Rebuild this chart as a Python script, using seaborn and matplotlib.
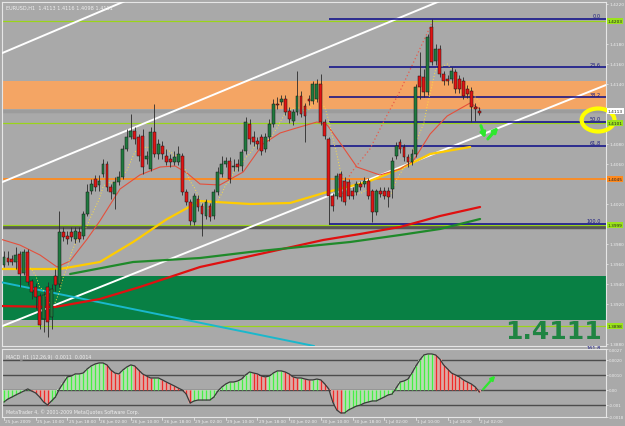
import numpy as np
import pandas as pd
import matplotlib
matplotlib.use("Agg")
import matplotlib.pyplot as plt
import matplotlib.transforms as mtransforms
from matplotlib.patches import Ellipse
import seaborn as sns

sns.set_style("dark")
plt.rcParams['font.family'] = ['DejaVu Sans']

# ---------------- data (EURUSD H1) ----------------
opens = [1.3959, 1.3966, 1.3965, 1.3962, 1.3970, 1.3951, 1.3972, 1.3943, 1.3937, 1.3928,
         1.3905, 1.3937, 1.3907, 1.3948, 1.3940, 1.3992, 1.3988, 1.3992, 1.3985, 1.3992,
         1.3988, 1.4010, 1.4033, 1.4045, 1.4039, 1.4050, 1.4060, 1.4037, 1.4030, 1.4042,
         1.4047, 1.4075, 1.4087, 1.4093, 1.4087, 1.4088, 1.4065, 1.4055, 1.4092, 1.4070,
         1.4078, 1.4068, 1.4065, 1.4062, 1.4062, 1.4068, 1.4032, 1.4022, 1.4002, 1.4025,
         1.4018, 1.4008, 1.4018, 1.4008, 1.4032, 1.4050, 1.4060, 1.4063, 1.4057, 1.4060,
         1.4058, 1.4073, 1.4100, 1.4087, 1.4083, 1.4087, 1.4075, 1.4087, 1.4100, 1.4120,
         1.4122, 1.4125, 1.4113, 1.4103, 1.4112, 1.4128, 1.4118, 1.4125, 1.4123, 1.4125,
         1.4140, 1.4102, 1.4085, 1.4028, 1.4028, 1.4050, 1.4043, 1.4042, 1.4033, 1.4032,
         1.4040, 1.4040, 1.4043, 1.4033, 1.4012, 1.4033, 1.4033, 1.4033, 1.4035, 1.4068,
         1.4082, 1.4077, 1.4067, 1.4062, 1.4070, 1.4148, 1.4147, 1.4132, 1.4197, 1.4163,
         1.4175, 1.4150, 1.4145, 1.4145, 1.4152, 1.4145, 1.4143, 1.4135, 1.4133, 1.4117,
         1.4113]
highs = [1.3973, 1.3973, 1.3969, 1.3977, 1.3973, 1.3975, 1.3975, 1.3945, 1.3941, 1.3931,
         1.3933, 1.3942, 1.3940, 1.3955, 1.4013, 1.3997, 1.3993, 1.3997, 1.3997, 1.3997,
         1.4013, 1.4040, 1.4045, 1.4049, 1.4049, 1.4065, 1.4063, 1.4040, 1.4047, 1.4053,
         1.4079, 1.4095, 1.4110, 1.4097, 1.4090, 1.4095, 1.4073, 1.4097, 1.4120, 1.4085,
         1.4083, 1.4075, 1.4070, 1.4073, 1.4078, 1.4071, 1.4035, 1.4025, 1.4031, 1.4029,
         1.4021, 1.4025, 1.4021, 1.4035, 1.4057, 1.4068, 1.4067, 1.4067, 1.4065, 1.4065,
         1.4075, 1.4107, 1.4105, 1.4093, 1.4087, 1.4090, 1.4091, 1.4105, 1.4125, 1.4127,
         1.4129, 1.4129, 1.4117, 1.4115, 1.4153, 1.4133, 1.4121, 1.4129, 1.4143, 1.4145,
         1.4150, 1.4105, 1.4087, 1.4031, 1.4051, 1.4053, 1.4047, 1.4045, 1.4037, 1.4043,
         1.4043, 1.4047, 1.4046, 1.4035, 1.4035, 1.4037, 1.4037, 1.4037, 1.4067, 1.4082,
         1.4085, 1.4080, 1.4070, 1.4075, 1.4140, 1.4172, 1.4155, 1.4190, 1.4205, 1.4180,
         1.4179, 1.4153, 1.4149, 1.4157, 1.4155, 1.4149, 1.4147, 1.4139, 1.4137, 1.4121,
         1.4117]
lows = [1.3957, 1.3959, 1.3959, 1.3955, 1.3937, 1.3949, 1.3939, 1.3925, 1.3915, 1.3895,
        1.3892, 1.3887, 1.3895, 1.3933, 1.3937, 1.3983, 1.3980, 1.3983, 1.3981, 1.3982,
        1.3985, 1.4008, 1.4030, 1.4033, 1.4033, 1.4047, 1.4033, 1.4025, 1.4015, 1.4039,
        1.4045, 1.4073, 1.4085, 1.4080, 1.4063, 1.4050, 1.4060, 1.4053, 1.4067, 1.4065,
        1.4065, 1.4059, 1.4057, 1.4059, 1.4059, 1.4029, 1.4019, 1.3999, 1.3999, 1.4013,
        1.3988, 1.4005, 1.4003, 1.4005, 1.4029, 1.4047, 1.4057, 1.4041, 1.4053, 1.4053,
        1.4053, 1.4070, 1.4080, 1.4078, 1.4075, 1.4069, 1.4072, 1.4083, 1.4097, 1.4115,
        1.4119, 1.4109, 1.4101, 1.4099, 1.4109, 1.4107, 1.4082, 1.4119, 1.4120, 1.4122,
        1.4099, 1.4085, 1.4000, 1.4013, 1.4025, 1.4023, 1.4019, 1.4025, 1.4025, 1.4029,
        1.4034, 1.4037, 1.4025, 1.4002, 1.4009, 1.4027, 1.4025, 1.4017, 1.4026, 1.4065,
        1.4071, 1.4063, 1.4057, 1.4059, 1.4067, 1.4125, 1.4127, 1.4129, 1.4159, 1.4159,
        1.4147, 1.4139, 1.4139, 1.4141, 1.4131, 1.4131, 1.4125, 1.4126, 1.4102, 1.4103,
        1.4109]
closes = [1.3967, 1.3962, 1.3962, 1.3969, 1.3950, 1.3972, 1.3942, 1.3932, 1.3927, 1.3899,
          1.3929, 1.3902, 1.3935, 1.3939, 1.3992, 1.3987, 1.3985, 1.3987, 1.3993, 1.3985,
          1.4010, 1.4032, 1.4040, 1.4037, 1.4043, 1.4060, 1.4037, 1.4032, 1.4042, 1.4047,
          1.4075, 1.4087, 1.4093, 1.4085, 1.4068, 1.4057, 1.4068, 1.4092, 1.4070, 1.4080,
          1.4070, 1.4062, 1.4062, 1.4067, 1.4070, 1.4032, 1.4022, 1.4003, 1.4028, 1.4017,
          1.4010, 1.4022, 1.4007, 1.4032, 1.4052, 1.4060, 1.4063, 1.4045, 1.4058, 1.4057,
          1.4072, 1.4102, 1.4085, 1.4082, 1.4080, 1.4073, 1.4087, 1.4100, 1.4120, 1.4119,
          1.4125, 1.4112, 1.4105, 1.4112, 1.4128, 1.4110, 1.4108, 1.4123, 1.4140, 1.4140,
          1.4102, 1.4088, 1.4028, 1.4018, 1.4048, 1.4027, 1.4022, 1.4028, 1.4028, 1.4040,
          1.4037, 1.4043, 1.4028, 1.4012, 1.4033, 1.4030, 1.4028, 1.4027, 1.4063, 1.4078,
          1.4075, 1.4067, 1.4062, 1.4070, 1.4137, 1.4137, 1.4132, 1.4187, 1.4162, 1.4175,
          1.4150, 1.4143, 1.4143, 1.4153, 1.4135, 1.4135, 1.4128, 1.4130, 1.4117, 1.4115,
          1.4111]

# MACD histogram values, in units of 0.0001
macd_1e4 = [-8.0, -6.0, -4.7, -3.3, -2.0, -0.7, 0.7, -0.7, -2.0, -4.7,
            -8.0, -10.0, -7.3, -4.7, 0.7, 4.7, 8.7, 9.3, 10.7, 10.7,
            11.3, 14.0, 16.0, 17.3, 18.0, 18.0, 16.7, 13.3, 11.3, 10.7,
            13.3, 15.3, 16.7, 16.0, 13.3, 10.7, 9.3, 8.0, 8.0, 8.0,
            6.7, 5.3, 4.0, 2.7, 1.3, 0.0, -2.7, -8.7, -7.3, -6.7,
            -6.7, -6.7, -6.7, -4.7, -0.7, 2.0, 4.0, 5.3, 5.3, 6.0,
            7.3, 10.0, 12.0, 11.3, 10.7, 9.3, 8.7, 9.3, 11.3, 12.7,
            12.7, 12.0, 10.7, 8.7, 8.0, 8.0, 7.3, 6.7, 6.7, 7.3,
            6.7, 4.0, 0.7, -8.0, -13.3, -15.3, -15.3, -13.3, -12.0, -10.7,
            -10.0, -8.7, -8.0, -7.3, -7.3, -6.0, -4.7, -3.3, -2.7, 1.3,
            5.3, 6.0, 7.3, 11.3, 16.0, 20.0, 23.3, 24.0, 24.0, 23.3,
            20.7, 16.7, 14.0, 11.3, 10.0, 8.7, 6.7, 5.3, 4.0, 2.0,
            -1.3]

date_labels = ["25 Jun 2009", "25 Jun 10:00", "25 Jun 18:00", "26 Jun 02:00",
               "26 Jun 10:00", "26 Jun 18:00", "29 Jun 02:00", "29 Jun 10:00",
               "29 Jun 18:00", "30 Jun 02:00", "30 Jun 10:00", "30 Jun 18:00",
               "1 Jul 02:00", "1 Jul 10:00", "1 Jul 18:00", "2 Jul 02:00"]
date_step = 8

# moving averages (bar index, price)
ma_fast_x = [-1, 4.0, 9.1, 13.4, 16.7, 21.0, 24.2, 29.3, 34.3, 39.4, 43.2, 46.2, 49.5, 54.5,
             60.4, 65.4, 69.7, 73.0, 79.0, 81.6, 85.6, 89.1, 94.9, 100.0, 103.3, 107.6,
             111.9, 117.7, 120.2]
ma_fast_y = [1.3985, 1.3979, 1.3969, 1.3957, 1.3963, 1.3985, 1.4003, 1.4035, 1.4049, 1.4057,
             1.4058, 1.4051, 1.4040, 1.4039, 1.4052, 1.4080, 1.4091, 1.4095, 1.4102, 1.4099,
             1.4077, 1.4057, 1.4049, 1.4055, 1.4063, 1.4090, 1.4108, 1.4121, 1.4115]
ma_yellow_x = [-1, 14.1, 24.2, 32.6, 41.2, 49.5, 62.1, 72.2, 81.6, 91.7, 100.0, 107.6, 117.7]
ma_yellow_y = [1.3955, 1.3955, 1.3962, 1.3982, 1.4005, 1.4023, 1.4020, 1.4021, 1.4032,
               1.4042, 1.4055, 1.4070, 1.4077]
ma_red_x = [-1, 12.9, 24.2, 34.3, 49.5, 64.6, 80.6, 89.9, 100.0, 110.1, 120.2]
ma_red_y = [1.3918, 1.3917, 1.3925, 1.3937, 1.3957, 1.3970, 1.3984, 1.3990, 1.3997,
            1.4008, 1.4017]
ma_green_x = [16.7, 32.6, 49.5, 62.1, 74.7, 87.4, 100.0, 110.1, 120.2]
ma_green_y = [1.3950, 1.3962, 1.3966, 1.3972, 1.3977, 1.3982, 1.3989, 1.3995, 1.4005]
dotted_red_x = [85.5, 87.4, 92.4, 96.2, 100.0, 103.8, 108.3]
dotted_red_y = [1.4030, 1.4050, 1.4075, 1.4105, 1.4133, 1.4165, 1.4203]

# trend lines (two anchors each: bar index, price)
white_lines = [((-1, 1.3897), (152, 1.4139)),
               ((-1, 1.4041), (110.1, 1.4223)),
               ((-1, 1.4170), (31.8, 1.4225))]
cyan_line = ((-1, 1.3942), (78.3, 1.3878))

# horizontal levels
orange_band = (1.4115, 1.4143)
green_band = (1.3904, 1.3948)
lime_levels = [1.4203, 1.4101, 1.3999, 1.3898]
orange_level = 1.4045
gray_levels = [1.4113, 1.3997]

fib_ratios = [0.0, 23.6, 38.2, 50.0, 61.8, 100.0, 161.8]
fib_high_idx = 108
fib_low_idx = 82
last_price_text = "1.4111"

# ---------------- drawing ----------------
BG = '#a9a9a9'
TXT = '#eeeeee'
fig = plt.figure(figsize=(6.25, 4.27), dpi=100)
fig.patch.set_facecolor(BG)
ax = fig.add_axes([2/625, 1-347/427, 604/625, 344/427])
axm = fig.add_axes([2/625, 1-418/427, 604/625, 68/427])
for a in (ax, axm):
    a.set_facecolor(BG)
    a.grid(False)
    for s in a.spines.values():
        s.set_color('#e6e6e6')
        s.set_linewidth(0.8)

XMIN, XMAX = -0.5, 152.0
ax.set_xlim(XMIN, XMAX)
ax.set_ylim(1.3878, 1.4222)

o = np.array(opens); h = np.array(highs); l = np.array(lows); c = np.array(closes)
n = len(c)
x = np.arange(n)

# bands and horizontal lines
ax.axhspan(*orange_band, color='#f4a564', lw=0, zorder=1)
ax.axhspan(*green_band, color='#088044', lw=0, zorder=1)
ax.axhline(gray_levels[0], color='#9c9c9c', lw=2.5, zorder=1.5)
ax.axhline(gray_levels[1], color='#575757', lw=2.5, zorder=1.5)
for lv in lime_levels:
    ax.axhline(lv, color='#9ad41a', lw=0.9, zorder=2)
ax.axhline(orange_level, color='#ff8a1e', lw=1.3, zorder=2)

# trend lines
for (x0, y0), (x1, y1) in white_lines:
    ax.plot([x0, x1], [y0, y1], color='white', lw=1.4, zorder=3)
ax.plot([cyan_line[0][0], cyan_line[1][0]], [cyan_line[0][1], cyan_line[1][1]],
        color='#1ab8cc', lw=1.4, zorder=3)

# fibonacci
fhigh = h[fib_high_idx]; flow = l[fib_low_idx]
for r in fib_ratios:
    lv = fhigh - (fhigh - flow) * r / 100.0
    ax.hlines(lv, fib_low_idx, XMAX, color='#0a0a88', lw=1.1, zorder=3.5)
    ax.text(150.8, lv + 0.00006, f"{r:.1f}", ha='right', va='bottom',
            fontsize=3.6, color='#1a1a80', zorder=7, clip_on=False)

# moving averages
sns.lineplot(x=ma_red_x, y=ma_red_y, ax=ax, color='#e01010', lw=1.6, zorder=4)
sns.lineplot(x=ma_green_x, y=ma_green_y, ax=ax, color='#1f8a2a', lw=1.6, zorder=4)
sns.lineplot(x=ma_yellow_x, y=ma_yellow_y, ax=ax, color='#ffcc00', lw=1.6, zorder=4)
sns.lineplot(x=ma_fast_x, y=ma_fast_y, ax=ax, color='#e4503c', lw=0.8, zorder=4)
sns.lineplot(x=dotted_red_x, y=dotted_red_y, ax=ax, color='#e85a4a', lw=0.9,
             linestyle=(0, (1, 2)), zorder=4)
fast = pd.Series(c).rolling(6, min_periods=1).mean()
sns.lineplot(x=x, y=fast.values, ax=ax, color='#ffe040', lw=0.7,
             linestyle=(0, (1, 2)), zorder=4)

# candles
up = c >= o
bot = np.minimum(o, c)
hgt = np.maximum(np.abs(c - o), 0.00005)
ax.vlines(x, l, h, color='#2a2a2a', lw=0.6, zorder=5)
ax.bar(x[up], hgt[up], bottom=bot[up], width=0.72, color='#1f7a3e',
       edgecolor='#151515', lw=0.35, zorder=6)
ax.bar(x[~up], hgt[~up], bottom=bot[~up], width=0.72, color='#e01414',
       edgecolor='#151515', lw=0.35, zorder=6)

# annotations
ax.add_patch(Ellipse((150.0, 1.4104), width=8.3, height=0.0023, fill=False,
                     ec='#ffff00', lw=3, zorder=9, clip_on=False))
arrow_kw = dict(arrowstyle='-|>', color='#2ee82e', lw=2.2, mutation_scale=7)
ax.annotate('', xy=(121.7, 1.4083), xytext=(120.2, 1.4101), arrowprops=arrow_kw, zorder=8)
ax.annotate('', xy=(125.3, 1.4099), xytext=(121.7, 1.4083), arrowprops=arrow_kw, zorder=8)
ax.text(151.0, 1.38925, last_price_text, ha='right', va='center', fontsize=18,
        fontweight='bold', color='#1f8442', zorder=8)
ax.text(0.006, 0.992, "EURUSD,H1  1.4113 1.4116 1.4098 1.4111", transform=ax.transAxes,
        ha='left', va='top', fontsize=3.6, color=TXT)

# price axis
ax.set_xticks([])
ax.yaxis.tick_right()
tag_levels = [1.4203, 1.4113, 1.4101, 1.4045, 1.3999, 1.3898]
yt = [v for v in np.arange(1.3880, 1.4221, 0.0020)
      if min(abs(v - t) for t in tag_levels) > 0.0007]
ax.set_yticks(yt)
ax.set_yticklabels([f"{v:.4f}" for v in yt])
ax.tick_params(axis='y', colors=TXT, labelsize=3.1, length=1.5, pad=0.8, width=0.5)
blend = mtransforms.blended_transform_factory(ax.transAxes, ax.transData)
tag_colors = ['#9be31c', '#ffffff', '#9be31c', '#ff8a1e', '#9be31c', '#9be31c']
for lv, fc in zip(tag_levels, tag_colors):
    ax.text(1.003, lv, f"{lv:.4f}", transform=blend, ha='left', va='center',
            fontsize=3.1, color='#202020', zorder=10, clip_on=False,
            bbox=dict(boxstyle='square,pad=0.15', fc=fc, ec='none'))

# ---------------- MACD panel ----------------
m = np.array(macd_1e4) * 1e-4
axm.set_xlim(XMIN, XMAX)
axm.set_ylim(-0.0018, 0.00273)
for lv in (0.0020, 0.0010, 0.0, -0.0010):
    axm.axhline(lv, color='#4c4c4c', lw=1.0, zorder=1)
rising = np.r_[True, m[1:] >= m[:-1]]
pale = np.where(rising, '#b9dcb4', '#dcaaa4')
bright = np.where(rising, '#44f044', '#f02a2a')
axm.bar(x, m, width=1.0, color=pale, lw=0, zorder=2)
axm.vlines(x, 0, m, colors=bright, lw=0.9, zorder=3)
sns.lineplot(x=x, y=m, ax=axm, color='#3a3a3a', lw=0.9, zorder=4)
axm.annotate('', xy=(124.5, 0.0011), xytext=(120.5, -0.0001),
             arrowprops=dict(arrowstyle='-|>', color='#2ee82e', lw=1.6, mutation_scale=6))
axm.text(0.006, 0.93, "MACD_H1 (12,26,9)  0.0011  0.0014", transform=axm.transAxes,
         ha='left', va='top', fontsize=3.4, color=TXT)
axm.text(0.006, 0.05, "MetaTrader 4, \u00a9 2001-2009 MetaQuotes Software Corp.",
         transform=axm.transAxes, ha='left', va='bottom', fontsize=3.4, color=TXT)
axm.set_xticks([])
axm.yaxis.tick_right()
mt = [0.0027, 0.0020, 0.0010, 0.0, -0.0010, -0.0018]
axm.set_yticks(mt)
axm.set_yticklabels(["0.0027", "0.0020", "0.0010", "0.00", "-0.001", "-0.0018"])
axm.tick_params(axis='y', colors=TXT, labelsize=2.9, length=1.5, pad=0.8, width=0.5)
axm.set_xlabel(''); axm.set_ylabel(''); ax.set_xlabel(''); ax.set_ylabel('')

# time axis labels
bt = mtransforms.blended_transform_factory(axm.transData, axm.transAxes)
for k, lab in enumerate(date_labels):
    xi = k * date_step
    axm.plot([xi, xi], [0, -0.05], transform=bt, color=TXT, lw=0.5, clip_on=False)
    axm.text(xi + 0.3, -0.03, lab, transform=bt, ha='left', va='top', fontsize=3.1,
             color=TXT, clip_on=False)

fig.savefig("out.png", dpi=100, facecolor=BG)
